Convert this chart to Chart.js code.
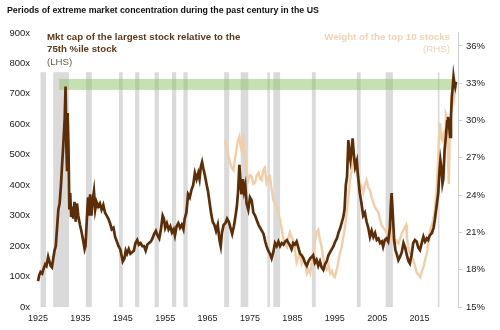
<!DOCTYPE html>
<html lang="en">
<head>
  <meta charset="UTF-8">
  <title>Periods of extreme market concentration</title>
  <style>
    html, body { margin: 0; padding: 0; background: #fff; }
    #wrap { width: 500px; height: 330px; position: relative; }
  </style>
</head>
<body>

<div id="wrap">
  <canvas id="myChart" width="500" height="330"></canvas>
</div>

<script src="https://cdn.jsdelivr.net/npm/chart.js"></script>

<script>
  // Mkt cap of the largest stock relative to the 75th %ile stock (LHS)
  var mktcapYears = [
    1925.0, 1925.3, 1925.6, 1926.0, 1926.3, 1926.7, 1927.0, 1927.4, 1927.7, 1928.0,
    1928.3, 1928.6, 1928.9, 1929.2, 1929.5, 1929.8, 1930.1, 1930.4, 1930.7, 1931.0,
    1931.3, 1931.5, 1931.7, 1931.85, 1932.0, 1932.2, 1932.4, 1932.6, 1932.8, 1933.0,
    1933.3, 1933.6, 1933.9, 1934.2, 1934.5, 1934.9, 1935.3, 1935.7, 1936.0, 1936.2,
    1936.5, 1936.8, 1937.0, 1937.3, 1937.6, 1937.9, 1938.2, 1938.5, 1938.8, 1939.2,
    1939.6, 1940.0, 1940.4, 1940.8, 1941.2, 1941.6, 1942.0, 1942.4, 1942.8, 1943.2,
    1943.6, 1944.0, 1944.4, 1944.7, 1945.0, 1945.4, 1945.7, 1946.0, 1946.4, 1946.8,
    1947.2, 1947.6, 1948.0, 1948.4, 1948.8, 1949.2, 1949.6, 1950.0, 1950.4, 1950.8,
    1951.2, 1951.6, 1952.0, 1952.4, 1952.8, 1953.2, 1953.6, 1954.0, 1954.4, 1954.7,
    1955.0, 1955.4, 1955.8, 1956.2, 1956.6, 1957.0, 1957.3, 1957.7, 1958.1, 1958.5,
    1958.9, 1959.3, 1959.6, 1960.0, 1960.4, 1960.8, 1961.2, 1961.6, 1962.0, 1962.4,
    1962.8, 1963.1, 1963.4, 1963.7, 1964.0, 1964.4, 1964.8, 1965.1, 1965.4, 1965.8,
    1966.2, 1966.6, 1967.0, 1967.4, 1967.8, 1968.1, 1968.4, 1968.8, 1969.2, 1969.6,
    1970.0, 1970.4, 1970.8, 1971.2, 1971.6, 1971.9, 1972.2, 1972.5, 1972.8, 1973.0,
    1973.3, 1973.6, 1973.9, 1974.2, 1974.6, 1975.0, 1975.4, 1975.8, 1976.2, 1976.6,
    1977.0, 1977.4, 1977.8, 1978.2, 1978.6, 1978.9, 1979.3, 1979.7, 1980.1, 1980.5,
    1980.9, 1981.3, 1981.7, 1982.1, 1982.5, 1982.9, 1983.3, 1983.7, 1984.1, 1984.5,
    1984.8, 1985.2, 1985.6, 1986.0, 1986.4, 1986.8, 1987.2, 1987.6, 1988.0, 1988.4,
    1988.8, 1989.2, 1989.6, 1989.9, 1990.3, 1990.7, 1991.1, 1991.5, 1991.9, 1992.3,
    1992.7, 1993.1, 1993.5, 1993.9, 1994.3, 1994.7, 1995.1, 1995.5, 1995.9, 1996.3,
    1996.7, 1997.0, 1997.3, 1997.6, 1997.9, 1998.2, 1998.5, 1998.7, 1999.0, 1999.2,
    1999.5, 1999.8, 2000.2, 2000.5, 2000.9, 2001.3, 2001.7, 2002.1, 2002.5, 2002.9,
    2003.3, 2003.7, 2004.1, 2004.5, 2004.9, 2005.3, 2005.7, 2006.1, 2006.4, 2006.8,
    2007.2, 2007.6, 2008.0, 2008.2, 2008.4, 2008.7, 2009.0, 2009.3, 2009.7, 2010.0,
    2010.4, 2010.8, 2011.2, 2011.6, 2012.0, 2012.4, 2012.7, 2013.1, 2013.5, 2013.9,
    2014.3, 2014.7, 2015.1, 2015.5, 2015.9, 2016.3, 2016.7, 2017.0, 2017.4, 2017.9,
    2018.3, 2018.6, 2019.0, 2019.4, 2019.7, 2019.9, 2020.2, 2020.4, 2020.6, 2020.9,
    2021.2, 2021.5, 2021.7, 2022.0, 2022.2, 2022.4, 2022.6, 2022.8, 2023.0, 2023.2,
    2023.4, 2023.6
  ];
  var mktcapMultiple = [
    85, 105, 115, 110, 125, 140, 135, 165, 150, 135,
    130, 160, 185, 200, 260, 320, 340, 395, 470, 540,
    620, 724, 520, 450, 637, 520, 320, 374, 300, 330,
    290, 345, 280, 340, 300, 270, 245, 215, 190, 200,
    280, 360, 300, 370, 300, 350, 380, 320, 345, 330,
    340, 320, 335, 310, 300, 290, 275, 255, 260, 230,
    215, 200, 190, 170, 150, 160, 185, 175, 190, 175,
    180, 185, 210, 220, 205, 210, 200, 200, 185, 205,
    210, 215, 225, 240, 250, 235, 225, 255, 300, 290,
    260, 275, 255, 265, 245, 255, 235, 265, 275, 260,
    270, 255, 290, 310, 370, 360, 385, 400, 440, 420,
    440, 420, 460, 476, 455, 430, 400, 380, 350, 310,
    280, 270, 250, 270, 220, 200, 245, 270, 275, 290,
    280, 260, 240, 265, 300, 330, 380, 467, 400, 370,
    420, 380, 400, 340, 320, 360, 350, 310, 300, 285,
    270, 260, 250, 240, 215, 200, 185, 175, 160, 180,
    210, 200, 215, 200, 210, 205, 215, 220, 210, 200,
    190, 210, 205, 215, 195, 175, 170, 160, 145, 135,
    150, 160, 165, 170, 145, 155, 135, 150, 130, 122,
    140, 150, 170, 180, 190, 200, 215, 225, 245, 260,
    280, 295, 320, 400, 430, 548, 500, 482, 520, 554,
    500, 460, 480, 427, 374, 340, 300, 310, 280, 260,
    230, 250, 230, 243, 220, 225, 210, 215, 198, 220,
    225, 215, 260, 330, 374, 300, 220, 187, 170, 154,
    165, 180, 210, 195, 170, 150, 143, 170, 210, 220,
    215, 195, 187, 210, 231, 215, 225, 220, 235, 243,
    260, 286, 330, 374, 450, 482, 450, 406, 420, 516,
    560, 610, 624, 590, 559, 620, 690, 720, 756, 735,
    723, 740
  ];

  // Weight of the top 10 stocks (RHS), %
  var top10Years = [
    1969.1, 1969.5, 1969.9, 1970.3, 1970.7, 1971.1, 1971.4, 1971.7, 1972.1, 1972.5,
    1972.8, 1973.0, 1973.4, 1973.8, 1974.1, 1974.6, 1975.0, 1975.4, 1975.8, 1976.2,
    1976.6, 1977.0, 1977.4, 1977.8, 1978.1, 1978.5, 1978.9, 1979.3, 1979.7, 1980.1,
    1980.5, 1980.9, 1981.3, 1981.7, 1982.1, 1982.5, 1982.9, 1983.3, 1983.7, 1984.0,
    1984.4, 1984.8, 1985.2, 1985.6, 1986.0, 1986.4, 1986.8, 1987.2, 1987.6, 1988.0,
    1988.4, 1988.8, 1989.2, 1989.6, 1990.0, 1990.3, 1990.7, 1991.1, 1991.5, 1991.9,
    1992.3, 1992.7, 1993.1, 1993.5, 1993.9, 1994.3, 1994.7, 1995.0, 1995.3, 1995.6,
    1995.9, 1996.2, 1996.6, 1997.0, 1997.4, 1997.8, 1998.2, 1998.6, 1999.0, 1999.4,
    1999.8, 2000.1, 2000.5, 2000.9, 2001.3, 2001.7, 2002.1, 2002.5, 2002.9, 2003.3,
    2003.7, 2004.1, 2004.5, 2004.9, 2005.3, 2005.7, 2006.0, 2006.4, 2006.8, 2007.2,
    2007.6, 2008.0, 2008.4, 2008.8, 2009.2, 2009.6, 2010.0, 2010.4, 2010.8, 2011.2,
    2011.5, 2011.8, 2012.0, 2012.3, 2012.7, 2013.1, 2013.5, 2013.9, 2014.3, 2014.7,
    2015.1, 2015.5, 2015.9, 2016.3, 2016.7, 2017.1, 2017.5, 2017.9, 2018.2, 2018.6,
    2019.0, 2019.2, 2019.4, 2019.6, 2019.8, 2020.1, 2020.4, 2020.7, 2021.0, 2021.2,
    2021.4, 2021.6, 2021.9, 2022.1, 2022.4, 2022.6, 2022.8, 2023.1, 2023.3, 2023.5
  ];
  var top10Weight = [
    28.4, 27.9, 27.2, 26.6, 26.2, 26.0, 26.8, 27.4, 28.3, 28.7,
    27.9, 27.6, 28.4, 27.0, 26.0, 25.2, 25.6, 25.5, 24.9, 25.0,
    25.6, 25.8, 25.3, 25.2, 26.0, 26.2, 25.0, 25.4, 25.5, 24.5,
    23.6, 23.3, 23.0, 22.5, 22.0, 21.2, 20.4, 20.0, 19.8, 20.5,
    21.0, 20.6, 20.4, 19.6, 18.6, 19.0, 19.3, 18.5, 18.9, 18.6,
    17.7, 18.0, 17.7, 18.6, 19.5, 20.2, 21.0, 21.2, 20.4, 19.8,
    18.9, 18.2, 18.0, 18.4, 17.7, 17.9, 17.5, 17.4, 17.8, 18.2,
    18.8, 19.3, 19.8, 20.6, 21.4, 22.5, 23.8, 25.2, 26.0, 27.1,
    26.8, 26.0, 25.5, 25.0, 24.7, 24.2, 24.8, 25.2, 24.6, 24.4,
    23.8, 23.4, 23.0, 22.8, 22.6, 22.0, 21.6, 21.4, 21.2, 21.0,
    20.8, 20.6, 21.8, 20.4, 20.0, 20.3, 20.1, 20.5, 20.9, 21.2,
    21.4, 21.6, 20.6, 19.8, 19.4, 19.0, 18.8, 18.3, 17.8, 17.6,
    17.4, 17.8, 18.2, 18.8, 19.3, 20.2, 21.2, 21.6, 22.0, 22.8,
    24.4, 25.8, 27.1, 28.8, 29.8, 28.6, 28.4, 29.0, 29.2, 30.5,
    30.3, 28.0, 24.9, 28.5, 30.6, 31.5, 32.5, 31.7, 32.3, 32.7
  ];

  // recessions (shaded)
  var recessionStart = [1925.6, 1928.6, 1936.3, 1944.1, 1947.9, 1952.5, 1956.6, 1959.3, 1968.9, 1972.8, 1979.1, 1980.5, 1989.6, 2000.2, 2007.0, 2019.3];
  var recessionEnd   = [1926.9, 1932.3, 1937.7, 1945.0, 1948.9, 1953.5, 1957.6, 1960.3, 1970.1, 1974.6, 1979.7, 1982.1, 1990.5, 2001.1, 2008.7, 2019.7];

  // green band of extreme concentration (LHS units)
  var bandYears = [1930.0, 2023.4];
  var bandRange = [713, 749];

  var yearTicks = [1925, 1935, 1945, 1955, 1965, 1975, 1985, 1995, 2005, 2015];
  var leftTicks = [0, 100, 200, 300, 400, 500, 600, 700, 800, 900];
  var rightTicks = [15, 18, 21, 24, 27, 30, 33, 36];

  var FONT = "'Liberation Sans', Arial, sans-serif";

  function toPoints(xs, ys) {
    return xs.map(function(x, i) { return { x: x, y: ys[i] }; });
  }

  // shaded recessions + green band under the lines
  var shadingPlugin = {
    id: 'shading',
    beforeDatasetsDraw: function(chart) {
      var ctx = chart.ctx;
      var x = chart.scales.x;
      var y = chart.scales.yL;
      ctx.save();
      ctx.fillStyle = '#dadada';
      var top = y.getPixelForValue(771);
      var bottom = y.getPixelForValue(0);
      for (var i = 0; i < recessionStart.length; i++) {
        var x0 = x.getPixelForValue(recessionStart[i]);
        var x1 = x.getPixelForValue(recessionEnd[i]);
        ctx.fillRect(x0, top, x1 - x0, bottom - top);
      }
      ctx.fillStyle = 'rgba(140, 195, 100, 0.5)';
      var bx0 = x.getPixelForValue(bandYears[0]);
      var bx1 = x.getPixelForValue(bandYears[1]);
      var by0 = y.getPixelForValue(bandRange[1]);
      var by1 = y.getPixelForValue(bandRange[0]);
      ctx.fillRect(bx0, by0, bx1 - bx0, by1 - by0);
      ctx.restore();
    }
  };

  // series labels written on the chart
  var labelPlugin = {
    id: 'seriesLabels',
    afterDraw: function(chart) {
      var ctx = chart.ctx;
      ctx.save();
      ctx.textBaseline = 'middle';
      ctx.textAlign = 'left';
      ctx.fillStyle = '#5a3a1c';
      ctx.font = 'bold 9.7px ' + FONT;
      ctx.fillText('Mkt cap of the largest stock relative to the', 47, 37);
      ctx.fillText('75th %ile stock', 47, 49);
      ctx.fillStyle = '#6a5848';
      ctx.font = '9.7px ' + FONT;
      ctx.fillText('(LHS)', 47, 62);

      ctx.textAlign = 'right';
      ctx.fillStyle = '#f1d3b3';
      ctx.font = 'bold 9.7px ' + FONT;
      ctx.fillText('Weight of the top 10 stocks', 450, 37);
      ctx.font = '9.7px ' + FONT;
      ctx.fillText('(RHS)', 450, 49);
      ctx.restore();
    }
  };

  var ctx = document.getElementById('myChart').getContext('2d');
  var myChart = new Chart(ctx, {
    type: 'line',
    data: {
      datasets: [{
        label: 'Mkt cap of the largest stock relative to the 75th %ile stock (LHS)',
        data: toPoints(mktcapYears, mktcapMultiple),
        yAxisID: 'yL',
        borderColor: '#5c2d06',
        borderWidth: 2.7,
        pointRadius: 0,
        tension: 0
      }, {
        label: 'Weight of the top 10 stocks (RHS)',
        data: toPoints(top10Years, top10Weight),
        yAxisID: 'yR',
        borderColor: '#f2cda6',
        borderWidth: 2.4,
        pointRadius: 0,
        tension: 0
      }]
    },
    options: {
      responsive: false,
      animation: false,
      layout: { padding: { left: 7, right: 0, top: 0, bottom: 0 } },
      plugins: {
        legend: { display: false },
        tooltip: { enabled: false },
        title: {
          display: true,
          text: 'Periods of extreme market concentration during the past century in the US',
          align: 'start',
          color: '#111',
          font: { family: FONT, size: 8.8, weight: 'bold' },
          padding: { top: 5, bottom: 17.4 }
        }
      },
      scales: {
        x: {
          type: 'linear',
          min: 1924.06,
          max: 2024.06,
          afterBuildTicks: function(scale) {
            scale.ticks = yearTicks.map(function(v) { return { value: v }; });
          },
          afterFit: function(scale) { scale.height = 23; },
          ticks: {
            color: '#222',
            font: { family: FONT, size: 9 },
            padding: 6,
            maxRotation: 0,
            callback: function(v) { return String(v); }
          },
          grid: { display: false, drawTicks: false },
          border: { display: false }
        },
        yL: {
          position: 'left',
          min: 0,
          max: 900,
          afterBuildTicks: function(scale) {
            scale.ticks = leftTicks.map(function(v) { return { value: v }; });
          },
          afterFit: function(scale) { scale.width = 27; },
          ticks: {
            color: '#222',
            font: { family: FONT, size: 9.5 },
            padding: 4,
            callback: function(v) { return v + 'x'; }
          },
          grid: { display: false, drawTicks: false },
          border: { display: false }
        },
        yR: {
          position: 'right',
          min: 15,
          max: 37.04,
          afterBuildTicks: function(scale) {
            scale.ticks = rightTicks.map(function(v) { return { value: v }; });
          },
          afterFit: function(scale) { scale.width = 42; },
          ticks: {
            color: '#222',
            font: { family: FONT, size: 9.5 },
            padding: 4,
            callback: function(v) { return v + '%'; }
          },
          grid: { drawOnChartArea: false, drawTicks: true, tickLength: 4, color: '#cfcfcf' },
          border: { display: true, color: '#cfcfcf' }
        }
      }
    },
    plugins: [shadingPlugin, labelPlugin]
  });
</script>

</body>
</html>
